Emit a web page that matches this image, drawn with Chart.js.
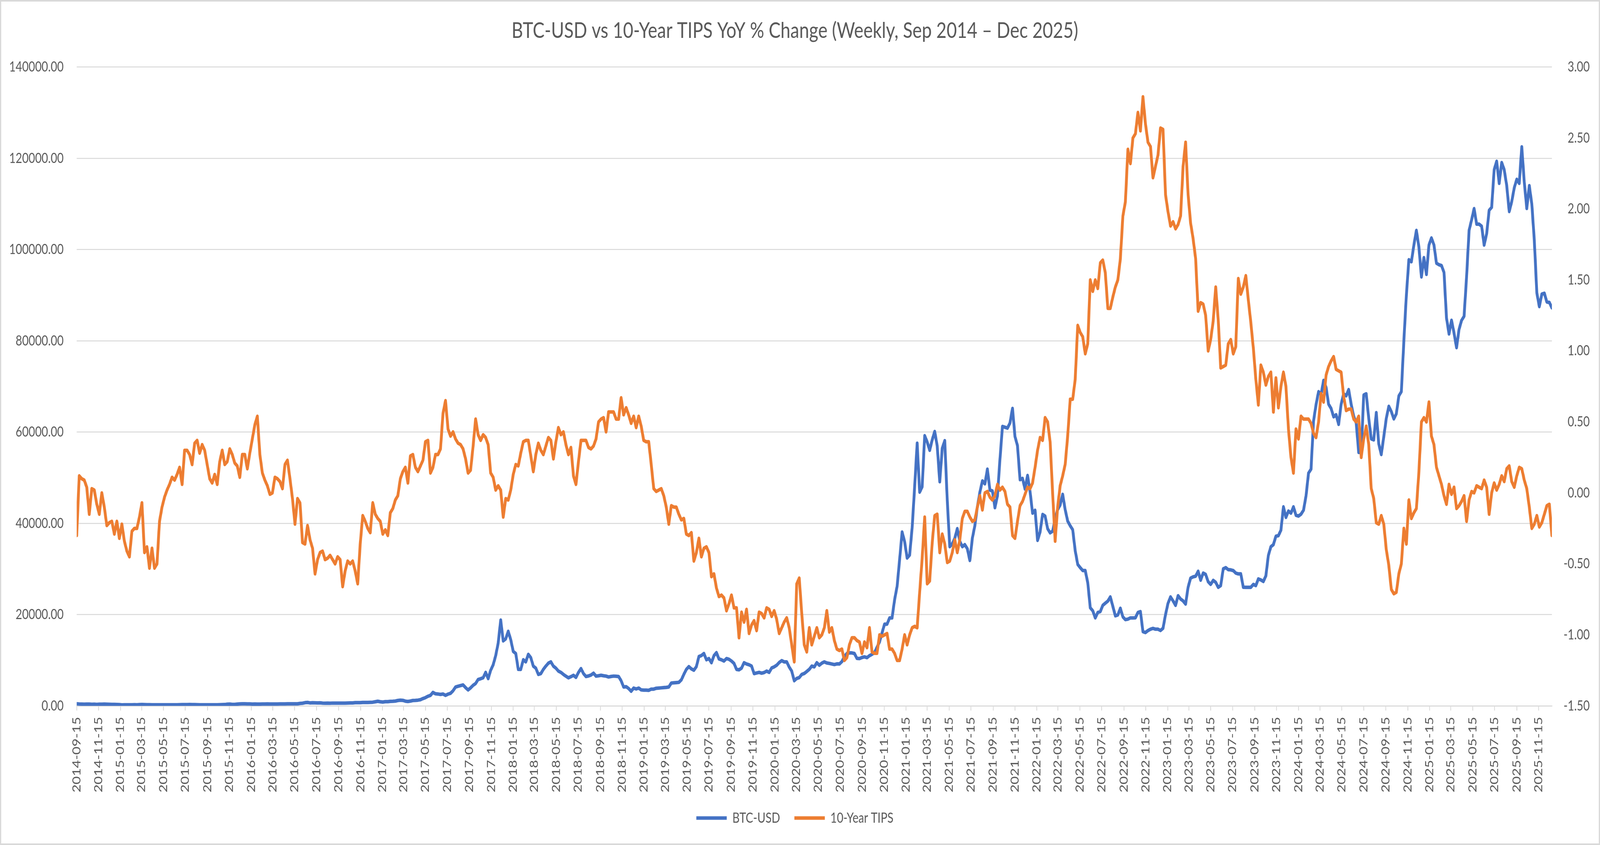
<!DOCTYPE html>
<html lang="en">
<head>
<meta charset="UTF-8">
<title>BTC-USD vs 10-Year TIPS YoY % Change</title>
<script src="https://cdn.jsdelivr.net/npm/chart.js"></script>
<style>
  html, body { margin: 0; padding: 0; background: #ffffff; overflow: hidden; }
  /* chart is laid out at 5152x2162 and shown at whatever the window really is */
  canvas { display: block; width: 100vw !important; height: 100vh !important; }
</style>
</head>
<body>
<canvas id="chart" width="5152" height="2162"></canvas>
<script>
// weekly closes, first week 2014-09-15
const startDate = '2014-09-15';

const btcUsd = [
  450, 410, 390, 360, 380, 390, 340, 360, 330, 360,
  370, 380, 370, 350, 330, 320, 310, 270, 210, 230,
  240, 230, 240, 250, 240, 270, 290, 270, 250, 250,
  240, 230, 225, 230, 240, 240, 235, 240, 230, 230,
  245, 250, 270, 285, 280, 290, 285, 280, 265, 230,
  230, 230, 240, 230, 240, 240, 245, 260, 280, 290,
  360, 380, 330, 330, 390, 420, 440, 450, 430, 430,
  380, 410, 380, 380, 400, 410, 420, 410, 415, 410,
  415, 420, 420, 425, 450, 460, 450, 455, 450, 530,
  580, 700, 750, 650, 680, 670, 650, 660, 600, 580,
  590, 580, 610, 610, 600, 610, 600, 610, 620, 640,
  640, 700, 710, 700, 740, 750, 740, 770, 800, 900,
  1000, 900, 830, 920, 920, 990, 1010, 1050, 1180, 1250,
  1200, 1030, 960, 1050, 1180, 1200, 1250, 1350, 1600, 1800,
  2100, 2300, 2950, 2650, 2600, 2500, 2600, 2300, 2570, 2750,
  3300, 4130, 4300, 4450, 4590, 4000, 3490, 3950, 4500, 4900,
  5780, 5950, 6150, 7340, 5970, 7800, 9000, 11000, 13770, 18800,
  14230, 14690, 16340, 14500, 11930, 11480, 8000, 7990, 10100, 9640,
  11290, 10560, 8700, 8260, 6890, 7070, 8000, 8720, 9360, 9640,
  8700, 8260, 7620, 7340, 6890, 6500, 6150, 6400, 6700, 6240,
  7340, 8170, 7070, 6430, 6550, 6750, 7160, 6520, 6600, 6700,
  6600, 6520, 6330, 6450, 6520, 6480, 6430, 5510, 4130, 4200,
  3800, 3200, 3900, 3700, 3900, 3500, 3450, 3450, 3400, 3670,
  3670, 3860, 3900, 3950, 4000, 4050, 4130, 5000, 5050, 5100,
  5150, 5700, 6900, 7990, 8600, 8100, 7800, 8600, 10800, 11020,
  11480, 10100, 10370, 9460, 11000, 11660, 10280, 10100, 9820, 10370,
  10200, 9820, 9300, 7990, 7900, 8260, 9460, 9180, 9000, 8720,
  7070, 7200, 7340, 7160, 7300, 7620, 7340, 8300, 8540, 8900,
  9500, 9910, 9640, 9640, 8500, 7620, 5510, 6000, 6200, 6890,
  7100, 7530, 8000, 8720, 8540, 9460, 8900, 9360, 9640, 9400,
  9300, 9180, 9050, 9200, 9180, 9700, 10800, 11480, 11600, 11600,
  11480, 10400, 10370, 10600, 10740, 10560, 11000, 11300, 11660, 12850,
  14000, 16000, 17900, 17900, 19280, 19280, 23230, 26160, 32000, 38100,
  36000, 32400, 33050, 39020, 48000, 57560, 46820, 48000, 59210, 57830,
  56000, 58290, 60130, 56920, 49110, 56460, 58110, 44980, 34880, 35530,
  36720, 38830, 36080, 34880, 35340, 34430, 31860, 36720, 39500, 43610,
  46820, 49300, 48650, 51870, 47280, 47090, 43420, 46000, 54000, 61230,
  61050, 60860, 62000, 65180, 59000, 57000, 49570, 49850, 47500, 50490,
  47000, 42230, 42870, 36260, 38100, 41950, 41590, 38830, 37910, 38280,
  41000, 43000, 44000, 46360, 43000, 40500, 39470, 38600, 34000, 31000,
  30290, 29650, 29650, 27000, 21500, 20840, 19280, 20470, 20660, 22030,
  22500, 22950, 23870, 21800, 19740, 19920, 21390, 19500, 18900, 19000,
  19280, 19280, 19300, 20470, 20660, 16250, 16070, 16500, 16800, 16980,
  16800, 16800, 16520, 17000, 20000, 22490, 23870, 23000, 22030, 24140,
  23410, 23000, 22310, 26000, 28000, 28270, 28400, 29500, 27540, 29100,
  28800, 27200, 26620, 27500, 27080, 25980, 26350, 30020, 30290, 29840,
  29800, 29650, 29100, 28920, 28920, 26000, 25980, 25980, 25980, 26620,
  26350, 27820, 27600, 27260, 28500, 33000, 34880, 35340, 37180, 37300,
  38500, 43610, 41310, 42690, 42230, 43610, 41770, 41590, 42000, 42870,
  46000, 51000, 51870, 62420, 66000, 68850, 68210, 71330, 69770, 66100,
  65180, 63340, 63800, 61690, 66100, 68390, 67930, 69310, 66100, 63500,
  61970, 55540, 55540, 68120, 68390, 63000, 58500, 58290, 64260, 57380,
  55080, 59000, 63000, 65640, 64500, 62880, 64000, 67930, 68850, 80000,
  90000, 97770, 97310, 101000, 104190, 100520, 94000, 98230, 94550, 101000,
  102540, 101000, 97000, 96670, 96500, 95000, 85000, 81500, 84500, 81700,
  78490, 82500, 84460, 85370, 94000, 104190, 106490, 108970, 105570, 105570,
  105110, 100980, 103460, 108600, 109240, 117500, 119340, 114500, 119060, 117500,
  114000, 108330, 110500, 113500, 115390, 114500, 122500, 114750, 109000, 114000,
  110000, 102000, 90500, 87500, 90240, 90420, 88500, 88410, 87210
];

const tips10y = [
  -0.30, 0.12, 0.10, 0.09, 0.04, -0.15, 0.03, 0.02, -0.08, -0.15,
  0.00, -0.10, -0.23, -0.21, -0.20, -0.29, -0.20, -0.32, -0.22, -0.34,
  -0.41, -0.45, -0.27, -0.25, -0.25, -0.17, -0.07, -0.42, -0.38, -0.53,
  -0.39, -0.53, -0.50, -0.20, -0.10, -0.03, 0.02, 0.06, 0.11, 0.09,
  0.13, 0.18, 0.06, 0.30, 0.30, 0.27, 0.20, 0.35, 0.37, 0.28,
  0.34, 0.30, 0.20, 0.10, 0.07, 0.13, 0.06, 0.22, 0.30, 0.20,
  0.22, 0.31, 0.27, 0.21, 0.19, 0.11, 0.27, 0.27, 0.17, 0.28,
  0.38, 0.48, 0.54, 0.27, 0.14, 0.09, 0.05, -0.01, 0.00, 0.11,
  0.10, 0.08, 0.03, 0.20, 0.23, 0.10, -0.04, -0.22, -0.04, -0.07,
  -0.35, -0.36, -0.23, -0.33, -0.39, -0.57, -0.47, -0.42, -0.41, -0.47,
  -0.46, -0.44, -0.47, -0.50, -0.45, -0.47, -0.66, -0.55, -0.48, -0.50,
  -0.48, -0.55, -0.64, -0.36, -0.16, -0.20, -0.25, -0.28, -0.07, -0.15,
  -0.18, -0.20, -0.29, -0.26, -0.30, -0.14, -0.11, -0.05, -0.02, 0.10,
  0.15, 0.18, 0.07, 0.26, 0.27, 0.18, 0.15, 0.19, 0.23, 0.36,
  0.37, 0.14, 0.18, 0.27, 0.27, 0.31, 0.56, 0.65, 0.45, 0.40,
  0.43, 0.38, 0.35, 0.34, 0.31, 0.24, 0.14, 0.16, 0.33, 0.52,
  0.41, 0.37, 0.41, 0.39, 0.34, 0.14, 0.11, 0.02, 0.05, 0.02,
  -0.17, -0.04, -0.05, 0.02, 0.13, 0.20, 0.19, 0.28, 0.36, 0.37,
  0.37, 0.26, 0.15, 0.27, 0.35, 0.30, 0.27, 0.33, 0.39, 0.37,
  0.24, 0.36, 0.46, 0.41, 0.43, 0.34, 0.27, 0.32, 0.12, 0.06,
  0.22, 0.37, 0.37, 0.37, 0.32, 0.31, 0.33, 0.38, 0.50, 0.52,
  0.53, 0.43, 0.57, 0.57, 0.57, 0.52, 0.52, 0.67, 0.55, 0.60,
  0.55, 0.49, 0.54, 0.46, 0.54, 0.47, 0.37, 0.36, 0.36, 0.20,
  0.03, 0.01, 0.02, 0.03, -0.02, -0.10, -0.22, -0.09, -0.10, -0.10,
  -0.15, -0.19, -0.18, -0.29, -0.30, -0.28, -0.48, -0.42, -0.32, -0.45,
  -0.39, -0.38, -0.42, -0.59, -0.57, -0.67, -0.73, -0.72, -0.74, -0.83,
  -0.78, -0.72, -0.81, -0.81, -1.02, -0.84, -0.91, -0.82, -0.99, -0.93,
  -0.90, -0.97, -0.84, -0.85, -0.88, -0.81, -0.82, -0.87, -0.83, -0.89,
  -0.99, -0.95, -0.91, -0.88, -0.95, -1.07, -1.19, -0.64, -0.60, -0.85,
  -1.07, -1.12, -0.95, -1.07, -1.01, -0.95, -1.02, -1.00, -0.95, -0.83,
  -0.98, -0.95, -1.04, -1.10, -1.11, -1.10, -1.18, -1.16, -1.07, -1.02,
  -1.02, -1.04, -1.05, -1.13, -1.05, -1.09, -0.95, -1.12, -1.13, -1.13,
  -1.00, -1.01, -1.00, -0.99, -1.10, -1.10, -1.13, -1.18, -1.18, -1.10,
  -1.00, -1.07, -1.00, -0.95, -0.94, -0.95, -0.70, -0.46, -0.17, -0.64,
  -0.62, -0.35, -0.16, -0.15, -0.42, -0.29, -0.36, -0.49, -0.48, -0.42,
  -0.33, -0.42, -0.33, -0.18, -0.13, -0.13, -0.17, -0.20, -0.19, -0.10,
  -0.02, -0.12, 0.00, 0.01, -0.03, -0.05, -0.02, 0.06, 0.02, 0.04,
  0.01, -0.08, -0.10, -0.30, -0.32, -0.20, -0.09, -0.06, -0.01, 0.04,
  0.03, 0.07, 0.18, 0.30, 0.39, 0.37, 0.53, 0.50, 0.36, 0.00,
  -0.34, -0.10, 0.05, 0.12, 0.20, 0.40, 0.66, 0.66, 0.80, 1.18,
  1.13, 1.10, 0.98, 1.05, 1.50, 1.42, 1.50, 1.44, 1.62, 1.64,
  1.55, 1.30, 1.30, 1.38, 1.45, 1.50, 1.65, 1.95, 2.05, 2.42,
  2.32, 2.50, 2.53, 2.68, 2.55, 2.79, 2.60, 2.47, 2.44, 2.22,
  2.30, 2.38, 2.57, 2.56, 2.10, 1.98, 1.88, 1.91, 1.86, 1.89,
  1.95, 2.30, 2.47, 2.10, 1.90, 1.79, 1.65, 1.28, 1.34, 1.33,
  1.25, 1.00, 1.08, 1.21, 1.45, 1.22, 0.88, 0.89, 0.90, 1.05,
  1.08, 0.98, 1.03, 1.51, 1.40, 1.45, 1.53, 1.36, 1.20, 1.02,
  0.80, 0.62, 0.90, 0.85, 0.76, 0.82, 0.85, 0.57, 0.81, 0.60,
  0.75, 0.85, 0.75, 0.45, 0.25, 0.14, 0.45, 0.38, 0.54, 0.52,
  0.52, 0.52, 0.49, 0.42, 0.39, 0.50, 0.70, 0.64, 0.83, 0.89,
  0.93, 0.96, 0.87, 0.86, 0.85, 0.68, 0.58, 0.59, 0.59, 0.52,
  0.50, 0.54, 0.25, 0.38, 0.47, 0.34, 0.03, -0.04, -0.21, -0.22,
  -0.16, -0.22, -0.40, -0.51, -0.68, -0.71, -0.70, -0.57, -0.50, -0.25,
  -0.36, -0.05, -0.18, -0.14, -0.11, 0.15, 0.50, 0.53, 0.50, 0.64,
  0.40, 0.34, 0.18, 0.12, 0.06, -0.02, -0.08, 0.06, -0.01, 0.04,
  -0.11, -0.09, -0.06, -0.02, -0.20, -0.05, 0.01, 0.00, 0.05, 0.04,
  0.03, 0.09, 0.04, -0.15, 0.00, 0.07, 0.02, 0.06, 0.12, 0.08,
  0.17, 0.19, 0.08, 0.04, 0.12, 0.18, 0.17, 0.09, 0.03, -0.10,
  -0.25, -0.22, -0.16, -0.24, -0.21, -0.15, -0.09, -0.08, -0.30
];

const tickLabels = [
  '2014-09-15', '2014-11-15',
  '2015-01-15', '2015-03-15', '2015-05-15', '2015-07-15', '2015-09-15', '2015-11-15',
  '2016-01-15', '2016-03-15', '2016-05-15', '2016-07-15', '2016-09-15', '2016-11-15',
  '2017-01-15', '2017-03-15', '2017-05-15', '2017-07-15', '2017-09-15', '2017-11-15',
  '2018-01-15', '2018-03-15', '2018-05-15', '2018-07-15', '2018-09-15', '2018-11-15',
  '2019-01-15', '2019-03-15', '2019-05-15', '2019-07-15', '2019-09-15', '2019-11-15',
  '2020-01-15', '2020-03-15', '2020-05-15', '2020-07-15', '2020-09-15', '2020-11-15',
  '2021-01-15', '2021-03-15', '2021-05-15', '2021-07-15', '2021-09-15', '2021-11-15',
  '2022-01-15', '2022-03-15', '2022-05-15', '2022-07-15', '2022-09-15', '2022-11-15',
  '2023-01-15', '2023-03-15', '2023-05-15', '2023-07-15', '2023-09-15', '2023-11-15',
  '2024-01-15', '2024-03-15', '2024-05-15', '2024-07-15', '2024-09-15', '2024-11-15',
  '2025-01-15', '2025-03-15', '2025-05-15', '2025-07-15', '2025-09-15', '2025-11-15'
];

const DAY = 86400000;
function toUTC(iso) {
  const p = iso.split('-').map(Number);
  return Date.UTC(p[0], p[1] - 1, p[2]);
}
const t0 = toUTC(startDate);
function dayOffset(iso) {
  return (toUTC(iso) - t0) / DAY;
}

// one date per weekly value
const weekDates = btcUsd.map((_, i) => new Date(t0 + i * 7 * DAY).toISOString().slice(0, 10));
const xDays = weekDates.map(dayOffset);
const tickDays = tickLabels.map(dayOffset);

const textGrey = '#595959';
const gridGrey = '#d9d9d9';
Chart.defaults.font.family = 'Lato';
Chart.defaults.color = textGrey;

// white background and thin outer frame like the Excel chart area
const frame = {
  id: 'frame',
  beforeDraw(chart) {
    const ctx = chart.ctx;
    ctx.save();
    ctx.fillStyle = '#ffffff';
    ctx.fillRect(0, 0, chart.width, chart.height);
    ctx.strokeStyle = gridGrey;
    ctx.lineWidth = 4;
    ctx.strokeRect(2, 2, chart.width - 4, chart.height - 4);
    ctx.restore();
  }
};

new Chart(document.getElementById('chart'), {
  type: 'line',
  data: {
    datasets: [
      {
        label: 'BTC-USD',
        data: xDays.map((x, i) => ({ x: x, y: btcUsd[i] })),
        yAxisID: 'yBtc',
        borderColor: '#4472c4',
        backgroundColor: '#4472c4',
        borderWidth: 9,
        order: 1
      },
      {
        label: '10-Year TIPS',
        data: xDays.map((x, i) => ({ x: x, y: tips10y[i] })),
        yAxisID: 'yTips',
        borderColor: '#ed7d31',
        backgroundColor: '#ed7d31',
        borderWidth: 9,
        order: 0
      }
    ]
  },
  options: {
    responsive: false,
    devicePixelRatio: 1,
    animation: false,
    elements: {
      point: { radius: 0, hoverRadius: 0 },
      line: { tension: 0, borderCapStyle: 'round', borderJoinStyle: 'round' }
    },
    layout: { padding: { left: 0, right: 33, top: 0, bottom: 41 } },
    plugins: {
      title: {
        display: true,
        text: 'BTC-USD vs 10-Year TIPS YoY % Change (Weekly, Sep 2014 \u2013 Dec 2025)',
        color: textGrey,
        font: { size: 57, weight: 'normal' },
        padding: { top: 44, bottom: 59 }
      },
      legend: {
        position: 'bottom',
        labels: {
          usePointStyle: true,
          pointStyle: 'line',
          pointStyleWidth: 98,
          font: { size: 36 },
          color: textGrey,
          padding: 46,
          sort: (a, b) => a.datasetIndex - b.datasetIndex
        }
      },
      tooltip: { enabled: false }
    },
    scales: {
      x: {
        type: 'linear',
        min: 0,
        max: xDays[xDays.length - 1],
        afterBuildTicks: (scale) => {
          scale.ticks = tickDays.map(v => ({ value: v }));
        },
        afterFit: (scale) => { scale.height = 223; },
        ticks: {
          autoSkip: false,
          minRotation: 90,
          maxRotation: 90,
          padding: 16,
          font: { size: 36 },
          callback: (value, index) => tickLabels[index]
        },
        grid: {
          drawOnChartArea: false,
          drawTicks: true,
          tickLength: 12,
          color: gridGrey,
          lineWidth: 2.5
        },
        border: { display: true, color: gridGrey, width: 2.5 }
      },
      yBtc: {
        position: 'left',
        min: 0,
        max: 140000,
        afterFit: (scale) => { scale.width = 247; },
        ticks: {
          stepSize: 20000,
          padding: 42,
          font: { size: 36 },
          callback: (v) => v.toFixed(2)
        },
        grid: { color: gridGrey, lineWidth: 2.5, drawTicks: false },
        border: { display: false }
      },
      yTips: {
        position: 'right',
        min: -1.5,
        max: 3,
        afterFit: (scale) => { scale.width = 122; },
        ticks: {
          stepSize: 0.5,
          crossAlign: 'far',
          font: { size: 36 },
          callback: (v) => v.toFixed(2)
        },
        grid: { display: false, drawTicks: false },
        border: { display: false }
      }
    }
  },
  plugins: [frame]
});
</script>
</body>
</html>
